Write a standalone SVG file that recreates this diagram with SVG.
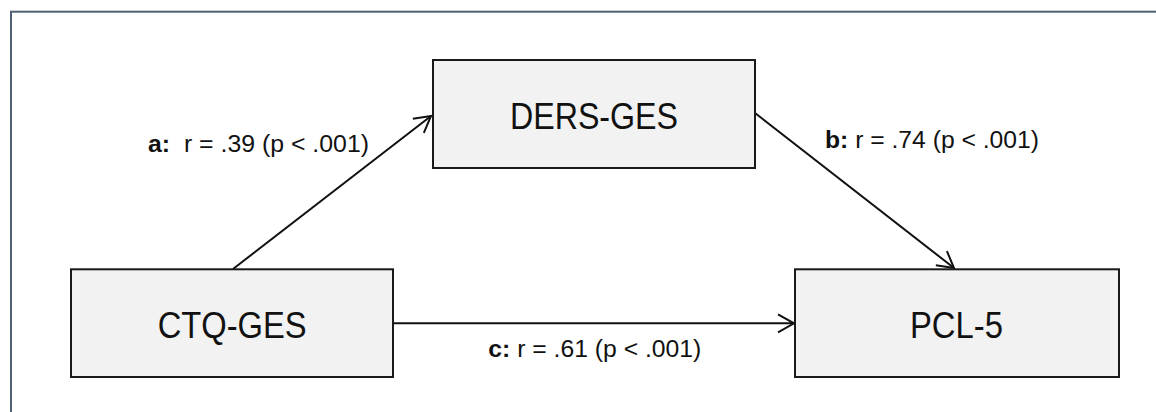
<svg xmlns="http://www.w3.org/2000/svg" width="1156" height="412" viewBox="0 0 1156 412">
  <style>
    .box { fill: #f2f2f2; stroke: #1a1a1a; stroke-width: 2; }
    .name { font-family: "Liberation Sans", Arial, sans-serif; font-size: 36px; fill: #111; text-anchor: middle; }
    .lbl { font-family: "Liberation Sans", Arial, sans-serif; font-size: 23px; fill: #111; }
    .lbl tspan.k { font-weight: bold; }
    .edge { stroke: #111; stroke-width: 2; fill: none; marker-end: url(#open); }
  </style>
  <defs>
    <marker id="open" markerUnits="userSpaceOnUse" markerWidth="24" markerHeight="24" viewBox="-20 -12 24 24" refX="0" refY="0" orient="auto" overflow="visible">
      <path d="M-16,-9 L0,0 L-16,9" fill="none" stroke="#111" stroke-width="2"/>
    </marker>
  </defs>

  <!-- outer frame, runs past the right and bottom edges -->
  <rect x="11" y="11.7" width="1160" height="420" fill="#ffffff" stroke="#4f6175" stroke-width="2"/>

  <g id="connectors">
    <line class="edge" x1="233" y1="269" x2="431" y2="116"/>
    <line class="edge" x1="755" y1="113" x2="954" y2="268"/>
    <line class="edge" x1="393" y1="323.3" x2="794" y2="323.3"/>
  </g>

  <g id="ders-ges">
    <rect class="box" x="433" y="60" width="322" height="108"/>
    <text class="name" x="594" y="129.3" textLength="168" lengthAdjust="spacingAndGlyphs">DERS-GES</text>
  </g>

  <g id="ctq-ges">
    <rect class="box" x="71" y="269.3" width="322" height="107.7"/>
    <text class="name" x="232.2" y="338.3" textLength="149" lengthAdjust="spacingAndGlyphs">CTQ-GES</text>
  </g>

  <g id="pcl-5">
    <rect class="box" x="795" y="269.3" width="324" height="107.7"/>
    <text class="name" x="956.4" y="338.3" textLength="93" lengthAdjust="spacingAndGlyphs">PCL-5</text>
  </g>

  <g id="labels">
    <text class="lbl" x="148" y="151.7" textLength="221" lengthAdjust="spacingAndGlyphs" xml:space="preserve"><tspan class="k">a:</tspan>  r = .39 (p &lt; .001)</text>
    <text class="lbl" x="825" y="148.3" textLength="214" lengthAdjust="spacingAndGlyphs"><tspan class="k">b:</tspan> r = .74 (p &lt; .001)</text>
    <text class="lbl" x="488.3" y="357.3" textLength="213" lengthAdjust="spacingAndGlyphs"><tspan class="k">c:</tspan> r = .61 (p &lt; .001)</text>
  </g>
</svg>
